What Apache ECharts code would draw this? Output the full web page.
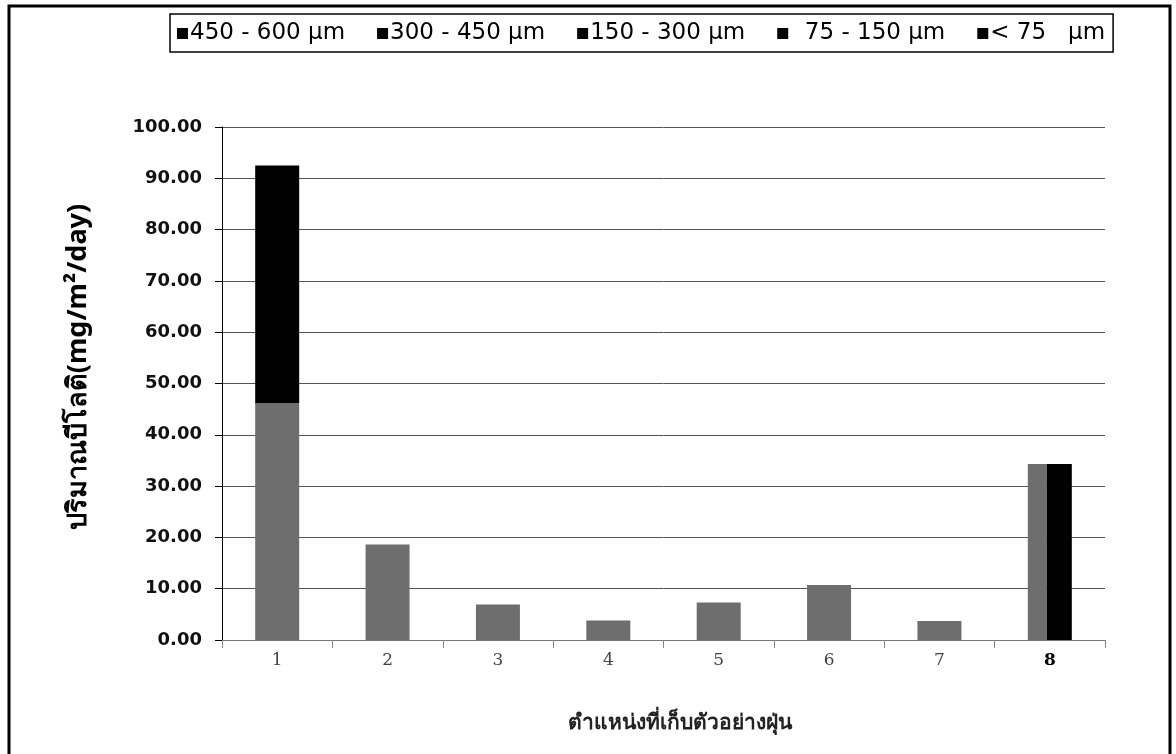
<!DOCTYPE html>
<html>
<head>
<meta charset="utf-8">
<script src="https://cdn.jsdelivr.net/npm/echarts@6/dist/echarts.min.js"></script>
<style>
html,body{margin:0;padding:0;background:#fff;}
#c{width:1176px;height:754px;}
</style>
</head>
<body>
<div id="c"></div>
<script>
// ---- data ----
const categories = ['1', '2', '3', '4', '5', '6', '7', '8'];
const seriesNames = ['450 - 600 µm', '300 - 450 µm', '150 - 300 µm', '  75 - 150 µm', '< 75   µm'];
const yTickMin = 0, yTickMax = 100, yTickStep = 10;
// stacked bars (locations 1-7)
const s450_600 = [null, null, null, null, null, null, null, null];
const s300_450 = [null, null, null, null, null, null, null, null];
const s150_300 = [null, null, null, null, null, null, null, null];
const s75_150 = [46.2, 18.6, 6.9, 3.8, 7.3, 10.7, 3.7, null];
const sLt75 = [46.3, null, null, null, null, null, null, null];
// location 8 shown side by side
const s75_150_loc8 = [null, null, null, null, null, null, null, 34.3];
const sLt75_loc8 = [null, null, null, null, null, null, null, 34.3];
const yTitle = 'ปริมาณบีโลติ(mg/m²/day)';
const xTitle = 'ตำแหน่งที่เก็บตัวอย่างฝุ่น';

const GRAY = '#6e6e6e', BLACK = '#000000';

const chart = echarts.init(document.getElementById('c'));
const xData = categories.map(c => c === '8'
  ? { value: c, textStyle: { fontWeight: 'bold', color: '#000' } }
  : c);

chart.setOption({
  backgroundColor: '#fff',
  animation: false,
  legend: {
    left: 170, top: 14,
    padding: [8, 8, 7, 7],
    borderColor: '#000', borderWidth: 1.5,
    icon: 'rect', itemWidth: 11, itemHeight: 11, itemGap: 32,
    textStyle: { fontFamily: 'DejaVu Sans', fontSize: 23, color: '#000', padding: [0, 0, 0, -3] },
    data: seriesNames.map(n => ({ name: n, itemStyle: { color: '#000' } }))
  },
  grid: { left: 222, right: 71, top: 127, bottom: 114, containLabel: false },
  xAxis: [{
    type: 'category', data: xData,
    axisLine: { show: true, lineStyle: { color: '#777', width: 1 } },
    axisTick: { show: true, length: 8, lineStyle: { color: '#888' } },
    axisLabel: { margin: 12, fontFamily: 'DejaVu Serif', fontSize: 17, color: '#444' }
  }, {
    type: 'category', data: categories, show: false
  }],
  yAxis: {
    type: 'value', min: yTickMin, max: yTickMax, interval: yTickStep,
    axisLine: { show: true, lineStyle: { color: '#000', width: 1 } },
    axisTick: { show: true, length: 7, lineStyle: { color: '#000' } },
    splitLine: { show: true, lineStyle: { color: '#555', width: 1 } },
    axisLabel: {
      margin: 20, fontFamily: 'DejaVu Sans', fontWeight: 'bold', fontSize: 18, color: '#111',
      formatter: v => v.toFixed(2)
    }
  },
  graphic: [
    { type: 'rect', shape: { x: 9, y: 6, width: 1161, height: 760 }, style: { fill: 'none', stroke: '#000', lineWidth: 3 }, silent: true },
    { type: 'text', rotation: Math.PI / 2, silent: true, x: 78, y: 367,
      style: { text: yTitle, fontFamily: 'Noto Sans', fontWeight: 'bold', fontSize: 27, fill: '#000', textAlign: 'center', textVerticalAlign: 'middle' } },
    { type: 'text', silent: true, x: 680, y: 723,
      style: { text: xTitle, fontFamily: 'Noto Sans', fontWeight: 'bold', fontSize: 21, fill: '#222', textAlign: 'center', textVerticalAlign: 'middle' } }
  ],
  series: [
    { name: seriesNames[0], type: 'bar', stack: 'a', data: s450_600, barWidth: 44, itemStyle: { color: BLACK } },
    { name: seriesNames[1], type: 'bar', stack: 'a', data: s300_450, barWidth: 44, itemStyle: { color: BLACK } },
    { name: seriesNames[2], type: 'bar', stack: 'a', data: s150_300, barWidth: 44, itemStyle: { color: BLACK } },
    { name: seriesNames[3], type: 'bar', stack: 'a', data: s75_150, barWidth: 44, itemStyle: { color: GRAY } },
    { name: seriesNames[4], type: 'bar', stack: 'a', data: sLt75, barWidth: 44, itemStyle: { color: BLACK } },
    { name: seriesNames[3], type: 'bar', xAxisIndex: 1, data: s75_150_loc8, barWidth: 19, barGap: '0%', itemStyle: { color: GRAY } },
    { name: seriesNames[4], type: 'bar', xAxisIndex: 1, data: sLt75_loc8, barWidth: 25, barGap: '0%', itemStyle: { color: BLACK } }
  ]
});
</script>
</body>
</html>
